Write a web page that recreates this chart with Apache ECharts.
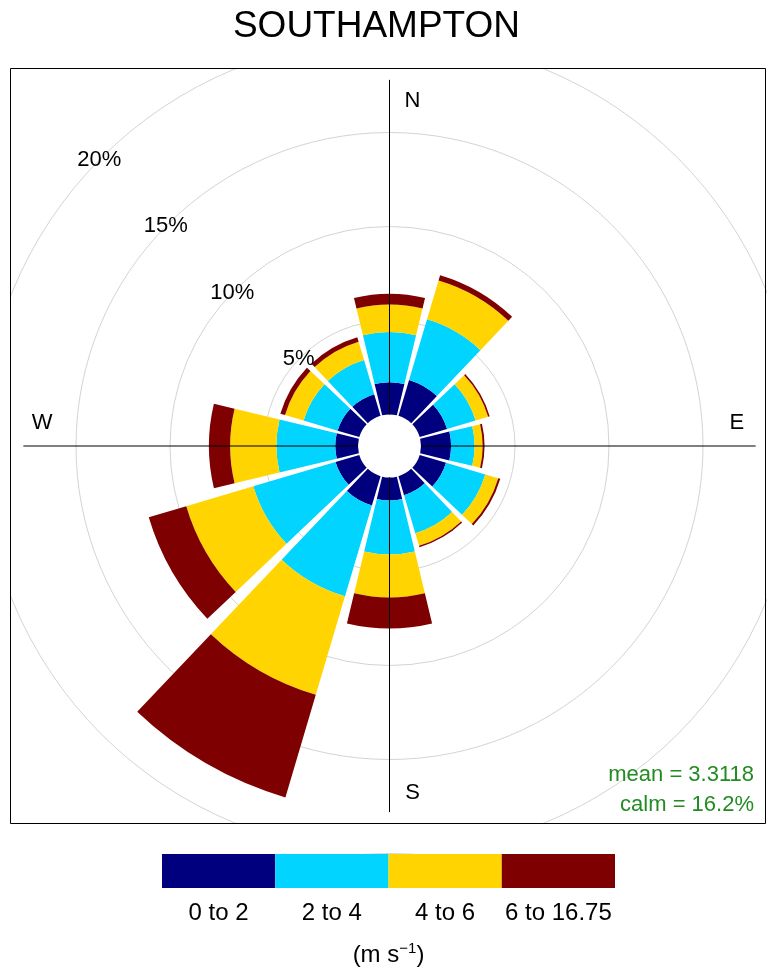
<!DOCTYPE html>
<html>
<head>
<meta charset="utf-8">
<title>SOUTHAMPTON wind rose</title>
<script src="https://cdn.jsdelivr.net/npm/echarts/dist/echarts.min.js"></script>
<style>
  html, body { margin: 0; padding: 0; background: #fff; }
  #main { width: 769px; height: 972px; }
</style>
</head>
<body>
<div id="main"></div>
<script>
// wind directions (12 sectors of 30 degrees, clockwise from north)
var directions = ['N', 'NNE', 'ENE', 'E', 'ESE', 'SSE', 'S', 'SSW', 'WSW', 'W', 'WNW', 'NNW'];

// speed bins and their colours
var speedBins = ['0 to 2', '2 to 4', '4 to 6', '6 to 16.75'];
var speedColours = ['#00007F', '#00D4FF', '#FFD400', '#7F0000'];

// frequency (% of hours) in each bin, per direction
var freq0to2 = [1.72, 1.99, 1.52, 1.60, 1.46, 1.05, 1.22, 1.62, 1.32, 1.21, 1.20, 1.20];
var freq2to4 = [2.66, 3.36, 1.58, 1.25, 2.18, 2.11, 2.88, 5.04, 4.56, 3.13, 1.89, 1.89];
var freq4to6 = [1.47, 2.16, 0.70, 0.43, 0.72, 0.70, 2.28, 5.47, 3.72, 2.46, 1.03, 1.02];
var freq6to17 = [0.57, 0.29, 0.08, 0.10, 0.11, 0.08, 1.65, 5.69, 2.08, 1.13, 0.26, 0.25];

// grid circles (%) and where their labels sit (compass degrees)
var gridPercents = [5, 10, 15, 20];
var gridLabelAngle = 315;

// compass letters
var compassLabels = ['N', 'E', 'S', 'W'];
var compassAngles = [0, 90, 180, 270];

var meanSpeed = 'mean = 3.3118';
var calmText = 'calm = 16.2%';

var FONT = 'Liberation Sans, Arial, sans-serif';

function draw() {
	var myChart = echarts.init(document.getElementById('main'));

	var freqs = [freq0to2, freq2to4, freq4to6, freq6to17];

	// rose bars, stacked outward from the calm circle
	var roseSeries = freqs.map(function(values, i) {
		return {
			name: speedBins[i],
			type: 'bar',
			coordinateSystem: 'polar',
			polarIndex: 0,
			stack: 'wind',
			barCategoryGap: '10%',
			data: values,
			itemStyle: { color: speedColours[i] },
			silent: true,
			z: 2
		};
	});

	// N-S and E-W cross lines
	var crossRadius = 17.8;
	var crossSeries = [[0, 180], [90, 270]].map(function(pair) {
		return {
			type: 'line',
			coordinateSystem: 'polar',
			polarIndex: 1,
			data: [[crossRadius, pair[0]], [crossRadius, pair[1]]],
			symbol: 'none',
			clip: false,
			silent: true,
			lineStyle: { color: '#000', width: 1 },
			z: 5
		};
	});

	// compass letters, nudged off the cross lines
	var compassOffsets = [[23, 2], [0, -23], [23, 0], [0, -23]];
	var compassSeries = {
		type: 'scatter',
		coordinateSystem: 'polar',
		polarIndex: 1,
		symbolSize: 1,
		itemStyle: { color: 'rgba(0,0,0,0)', opacity: 1 },
		silent: true,
		z: 6,
		data: compassLabels.map(function(txt, i) {
			return {
				value: [16.8, compassAngles[i]],
				name: txt,
				label: { offset: compassOffsets[i] }
			};
		}),
		label: {
			show: true,
			position: 'inside',
			formatter: '{b}',
			color: '#000',
			fontSize: 22,
			fontFamily: FONT
		}
	};

	// percentage labels on the grid circles
	var percentSeries = {
		type: 'scatter',
		coordinateSystem: 'polar',
		polarIndex: 1,
		symbolSize: 1,
		itemStyle: { color: 'rgba(0,0,0,0)', opacity: 1 },
		silent: true,
		z: 6,
		data: gridPercents.map(function(p) { return [p, gridLabelAngle]; }),
		label: {
			show: true,
			position: 'inside',
			offset: [-2, 2],
			formatter: function(param) { return param.value[0] + '%'; },
			color: '#000',
			fontSize: 22,
			fontFamily: FONT
		}
	};

	// colour key under the plot
	var keySeries = {
		type: 'bar',
		xAxisIndex: 0,
		yAxisIndex: 0,
		barWidth: '100%',
		barCategoryGap: 0,
		silent: true,
		data: speedBins.map(function(b, i) {
			return { value: 1, itemStyle: { color: speedColours[i] } };
		})
	};

	var option = {
		backgroundColor: '#fff',
		animation: false,
		polar: [
			{ center: [389.5, 446], radius: [31.5, 407.5] },
			{ center: [389.5, 446], radius: [31.5, 407.5] }
		],
		angleAxis: [
			{
				polarIndex: 0,
				type: 'category',
				data: directions,
				startAngle: 105,
				show: false
			},
			{
				polarIndex: 1,
				type: 'value',
				min: 0,
				max: 360,
				startAngle: 90,
				show: false
			}
		],
		radiusAxis: [
			{ polarIndex: 0, min: 0, max: 20, show: false },
			{
				polarIndex: 1,
				min: 0,
				max: 20,
				interval: 5,
				axisLine: { show: false },
				axisTick: { show: false },
				axisLabel: { show: false },
				splitLine: {
					show: true,
					lineStyle: {
						color: ['rgba(0,0,0,0)', '#d4d4d4', '#d4d4d4', '#d4d4d4', '#d4d4d4'],
						width: 1
					}
				}
			}
		],
		grid: [{ left: 162, top: 854, width: 453, height: 34 }],
		xAxis: [{
			gridIndex: 0,
			type: 'category',
			data: speedBins,
			axisLine: { show: false },
			axisTick: { show: false },
			axisLabel: { color: '#000', fontSize: 24, fontFamily: FONT, margin: 13, interval: 0 },
			name: '(m s{sup|\u22121})',
			nameLocation: 'middle',
			nameGap: 53,
			nameTextStyle: {
				color: '#000',
				fontSize: 24,
				fontFamily: FONT,
				rich: {
					sup: { fontSize: 15, fontFamily: FONT, color: '#000', padding: [0, 0, 14, 0] }
				}
			}
		}],
		yAxis: [{ gridIndex: 0, type: 'value', min: 0, max: 1, show: false }],
		graphic: [
			// hide grid circles outside the plot box
			{ type: 'rect', shape: { x: 0, y: 0, width: 769, height: 68 }, style: { fill: '#fff' }, z: 90, silent: true },
			{ type: 'rect', shape: { x: 0, y: 824, width: 769, height: 29 }, style: { fill: '#fff' }, z: 90, silent: true },
			{ type: 'rect', shape: { x: 0, y: 0, width: 10, height: 860 }, style: { fill: '#fff' }, z: 90, silent: true },
			{ type: 'rect', shape: { x: 767, y: 0, width: 2, height: 860 }, style: { fill: '#fff' }, z: 90, silent: true },
			// plot box
			{ type: 'rect', shape: { x: 10.5, y: 68.5, width: 755, height: 755 }, style: { fill: 'none', stroke: '#000', lineWidth: 1 }, z: 100, silent: true },
			// title
			{ type: 'text', x: 376.5, y: 27, z: 110, silent: true,
				style: { text: 'SOUTHAMPTON', fill: '#000', font: '37px ' + FONT, textAlign: 'center', textVerticalAlign: 'middle' } },
			// mean / calm
			{ type: 'text', x: 754, y: 775, z: 110, silent: true,
				style: { text: meanSpeed, fill: '#228B22', font: '22px ' + FONT, textAlign: 'right', textVerticalAlign: 'middle' } },
			{ type: 'text', x: 754, y: 805, z: 110, silent: true,
				style: { text: calmText, fill: '#228B22', font: '22px ' + FONT, textAlign: 'right', textVerticalAlign: 'middle' } }
		],
		series: roseSeries.concat(crossSeries, [compassSeries, percentSeries, keySeries])
	};

	myChart.setOption(option);
}

draw();
</script>
</body>
</html>
